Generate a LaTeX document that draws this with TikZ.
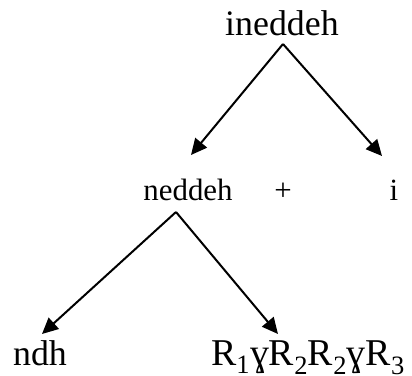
\documentclass[tikz,border=0pt]{standalone}
\usepackage{fontspec}
\setmainfont{Liberation Serif}
\usetikzlibrary{arrows.meta}
\tikzset{
  word/.style={anchor=base,inner sep=0pt,font=\fontsize{31}{36}\selectfont},
  bigword/.style={word,font=\fontsize{36}{42}\selectfont},
  branch/.style={line width=2bp,-{Triangle[length=16bp,width=15bp]}}
}
\begin{document}
\begin{tikzpicture}[x=1bp,y=-1bp]
\useasboundingbox (0,0) rectangle (412,376);
% Words
\node[bigword] (ineddeh) at (282,35) {ineddeh};
\node[word] (neddeh) at (188,200) {neddeh};
\node[word] (plus) at (283,200) {+};
\node[word] (i) at (394,200) {i};
\node[bigword] (ndh) at (40,365) {ndh};
\node[bigword,font=\fontsize{38}{44}\selectfont] (roots) at (308,365) {R\textsubscript{1}ɣR\textsubscript{2}R\textsubscript{2}ɣR\textsubscript{3}};
% Branches
\draw[branch] ([xshift=1bp,yshift=-9bp]ineddeh.base) -- ([xshift=3bp,yshift=45bp]neddeh.base);
\draw[branch] ([xshift=1bp,yshift=-9bp]ineddeh.base) -- ([xshift=-12bp,yshift=44bp]i.base);
\draw[branch] ([xshift=-12bp,yshift=-12bp]neddeh.base) -- ([xshift=2bp,yshift=31bp]ndh.base);
\draw[branch] ([xshift=-12bp,yshift=-12bp]neddeh.base) -- ([xshift=-30bp,yshift=31bp]roots.base);
\end{tikzpicture}
\end{document}
